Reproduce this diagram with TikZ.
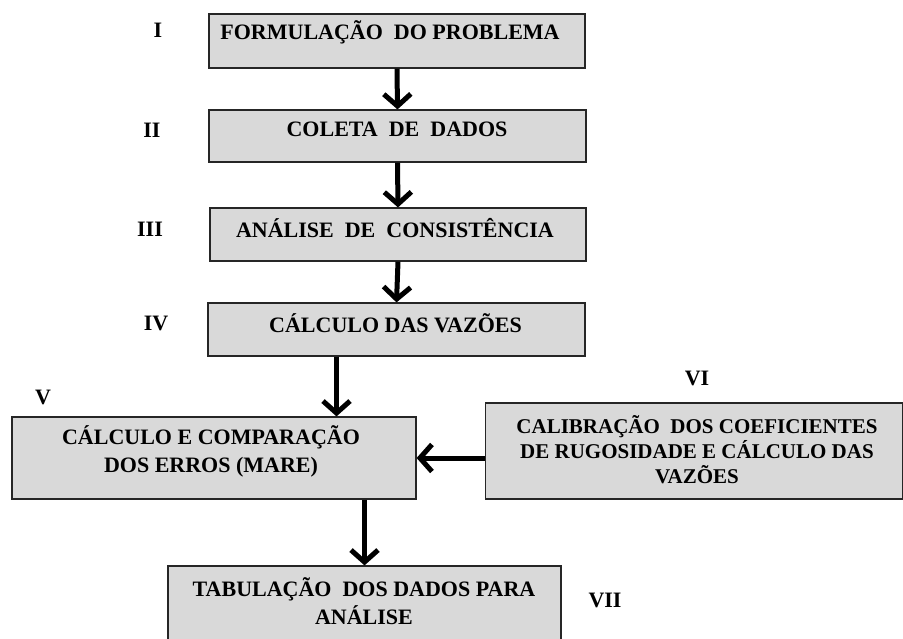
\documentclass[tikz,border=0pt]{standalone}
\usepackage{fontspec}
\setmainfont{Liberation Serif}
\usetikzlibrary{arrows.meta}

\tikzset{
  caixa/.style={draw=black!85, line width=1.2pt, fill=black!15, inner sep=0pt},
  texto/.style={font=\bfseries\fontsize{22}{28}\selectfont, align=center, inner sep=0pt},
  fase/.style={font=\bfseries\fontsize{22}{25}\selectfont, inner sep=0pt},
  seta/.style={line width=5pt, -{Straight Barb[length=12pt,width=27pt]}}
}

\begin{document}
\begin{tikzpicture}[x=1pt,y=-1pt]
        \useasboundingbox (0,0) rectangle (903,638);
        % caixas
        \node[caixa, minimum width=376pt, minimum height=54pt] (i) at (397,41) {};
        \node[caixa, minimum width=377pt, minimum height=52pt] (ii) at (397.5,136) {};
        \node[caixa, minimum width=376pt, minimum height=53pt] (iii) at (398,234.5) {};
        \node[caixa, minimum width=377pt, minimum height=53pt] (iv) at (396.5,329.5) {};
        \node[caixa, minimum width=404pt, minimum height=82pt] (v) at (214,458) {};
        \node[caixa, minimum width=417pt, minimum height=96pt] (vi) at (694,451) {};
        \node[caixa, minimum width=393pt, minimum height=80pt] (vii) at (364.5,606) {};
        % textos
        \node[texto] (ti) at (390,32) {FORMULAÇÃO~ DO PROBLEMA};
        \node[texto] (tii) at (397,129) {COLETA~ DE~ DADOS};
        \node[texto] (tiii) at (395,228) {ANÁLISE~ DE~ CONSISTÊNCIA};
        \node[texto] (tiv) at (395.5,323) {CÁLCULO DAS VAZÕES};
        \node[texto] (tv) at (211,451) {CÁLCULO E COMPARAÇÃO\\DOS ERROS (MARE)};
        \node[texto, font=\bfseries\fontsize{21}{25}\selectfont] (tvi) at (697,450)
            {CALIBRAÇÃO~ DOS COEFICIENTES\\DE RUGOSIDADE E CÁLCULO DAS\\VAZÕES};
        \node[texto] (tvii) at (364,601) {TABULAÇÃO~ DOS DADOS PARA\\ANÁLISE};
        % fases
        \node[fase] (fi) at (158,30) {I};
        \node[fase] (fii) at (152,130) {II};
        \node[fase] (fiii) at (150,229) {III};
        \node[fase] (fiv) at (156,323) {IV};
        \node[fase] (fv) at (43,397) {V};
        \node[fase] (fvi) at (697,378) {VI};
        \node[fase] (fvii) at (605,600) {VII};
        % setas
        \draw[seta] (i.south) -- (ii.north);
        \draw[seta] (ii.south) -- (iii.north);
        \draw[seta] (iii.south) -- (iv.north);
        \draw[seta] ([xshift=-60pt]iv.south) -- ([xshift=-60pt]iv.south |- v.north);
        \draw[seta] (vi.west |- v.east) -- (v.east);
        \draw[seta] (vii.north |- v.south) -- (vii.north);
\end{tikzpicture}
\end{document}
